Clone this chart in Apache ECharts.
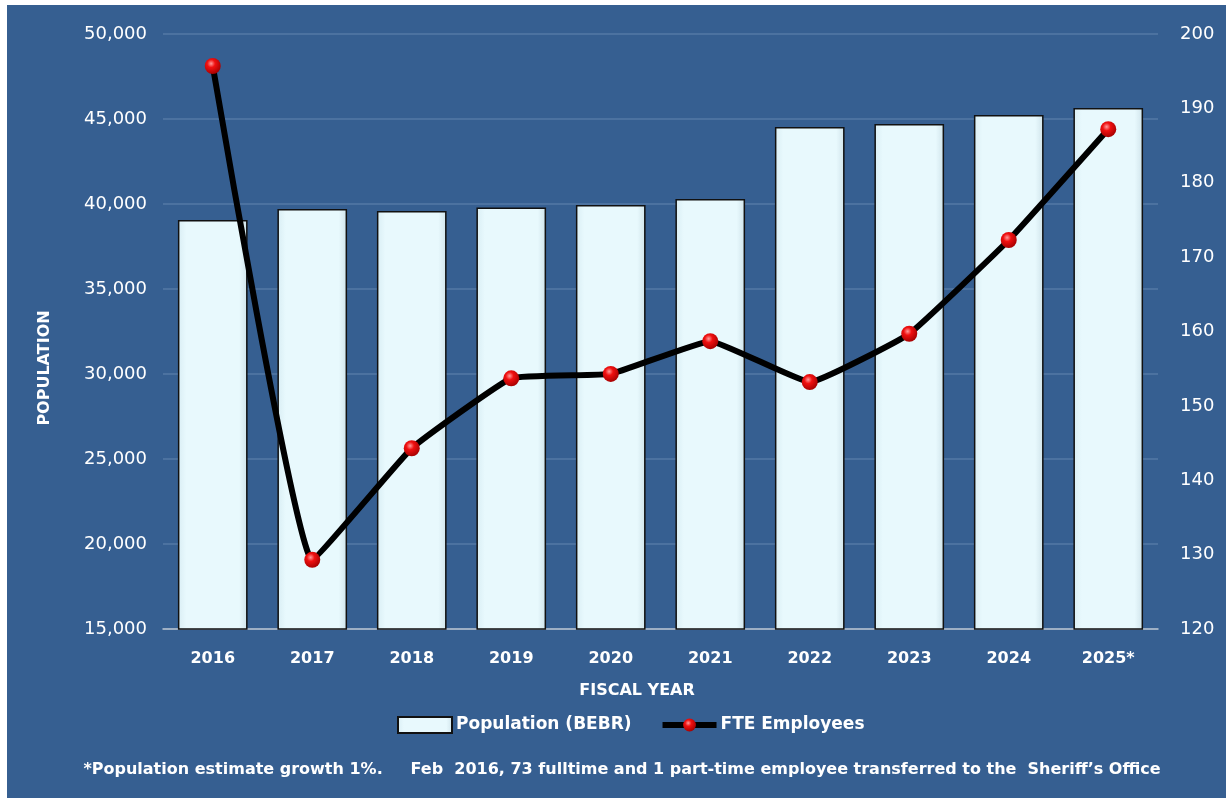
<!DOCTYPE html>
<html>
<head>
<meta charset="utf-8">
<script src="https://cdn.jsdelivr.net/npm/echarts@6/dist/echarts.min.js"></script>
<style>
  html, body { margin: 0; padding: 0; background: #ffffff; }
  #chart { position: absolute; left: 7px; top: 5px; width: 1219px; height: 793px; }
</style>
</head>
<body>
<div id="chart"></div>
<script>
// Fiscal years on the category axis
const years = ['2016', '2017', '2018', '2019', '2020', '2021', '2022', '2023', '2024', '2025*'];
// Population (BEBR) estimates
const population = [39060, 39710, 39590, 39800, 39940, 40300, 44530, 44700, 45235, 45650];
// Full-time-equivalent employees
const fteEmployees = [195.7, 129.3, 144.3, 153.7, 154.3, 158.7, 153.2, 159.7, 172.3, 187.2];
const footnote = '*Population estimate growth 1%.     Feb  2016, 73 fulltime and 1 part-time employee transferred to the  Sheriff\u2019s Office';

const FONT = '"DejaVu Sans", "Liberation Sans", sans-serif';
const chart = echarts.init(document.getElementById('chart'));

const barFill = new echarts.graphic.LinearGradient(0, 0, 1, 0, [
  { offset: 0, color: '#d9eef4' },
  { offset: 0.12, color: '#e8f9fd' },
  { offset: 0.88, color: '#e8f9fd' },
  { offset: 1, color: '#cfe3ea' }
]);
const ball = new echarts.graphic.RadialGradient(0.4, 0.35, 0.7, [
  { offset: 0, color: '#ff9a9a' },
  { offset: 0.35, color: '#f01010' },
  { offset: 1, color: '#a00000' }
]);

chart.setOption({
  backgroundColor: '#365f91',
  animation: false,
  textStyle: { fontFamily: FONT },
  grid: { left: 156, right: 68, top: 29, bottom: 169, containLabel: false },
  legend: {
    top: 706,
    left: 385,
    itemGap: 28,
    itemWidth: 54,
    itemHeight: 16,
    textStyle: { color: '#ffffff', fontSize: 17, fontWeight: 'bold', fontFamily: FONT, padding: [0, 0, 0, -1] },
    data: [
      { name: 'Population (BEBR)', icon: 'rect' },
      { name: 'FTE Employees', lineStyle: { width: 6, color: '#000000' }, itemStyle: { color: ball } }
    ]
  },
  xAxis: {
    type: 'category',
    data: years,
    axisLine: { lineStyle: { color: '#b9c3cf', width: 1.5 } },
    axisTick: { show: false },
    axisLabel: { color: '#ffffff', fontSize: 16, fontWeight: 'bold', margin: 22 }
  },
  yAxis: [
    {
      type: 'value',
      min: 15000,
      max: 50000,
      interval: 5000,
      axisLine: { show: false },
      axisTick: { show: false },
      splitLine: { lineStyle: { color: '#5579a6', width: 1.5 } },
      axisLabel: {
        color: '#ffffff', fontSize: 18, margin: 16,
        formatter: v => v.toLocaleString('en-US')
      }
    },
    {
      type: 'value',
      min: 120,
      max: 200,
      interval: 10,
      position: 'right',
      axisLine: { show: false },
      axisTick: { show: false },
      splitLine: { show: false },
      axisLabel: { color: '#ffffff', fontSize: 18, margin: 22 }
    }
  ],
  series: [
    {
      name: 'Population (BEBR)',
      type: 'bar',
      data: population,
      barWidth: '70%',
      itemStyle: { color: barFill, borderColor: '#111111', borderWidth: 1.5 },
      z: 2
    },
    {
      name: 'FTE Employees',
      type: 'line',
      yAxisIndex: 1,
      data: fteEmployees,
      smooth: 0.1,
      symbol: 'circle',
      symbolSize: 16,
      lineStyle: { color: '#000000', width: 6 },
      itemStyle: { color: ball, borderWidth: 0 },
      z: 3
    }
  ],
  graphic: [
    {
      type: 'text',
      x: 630,
      y: 686,
      style: {
        text: 'FISCAL YEAR',
        fill: '#ffffff',
        font: 'bold 16px ' + FONT,
        align: 'center',
        verticalAlign: 'middle'
      }
    },
    {
      type: 'text',
      x: 38,
      y: 363,
      rotation: Math.PI / 2,
      style: {
        text: 'POPULATION',
        fill: '#ffffff',
        font: 'bold 16px ' + FONT,
        align: 'center',
        verticalAlign: 'middle'
      }
    },
    {
      type: 'text',
      x: 615,
      y: 765,
      style: {
        text: footnote,
        fill: '#ffffff',
        font: 'bold 16px ' + FONT,
        align: 'center',
        verticalAlign: 'middle'
      }
    }
  ]
});
</script>
</body>
</html>
